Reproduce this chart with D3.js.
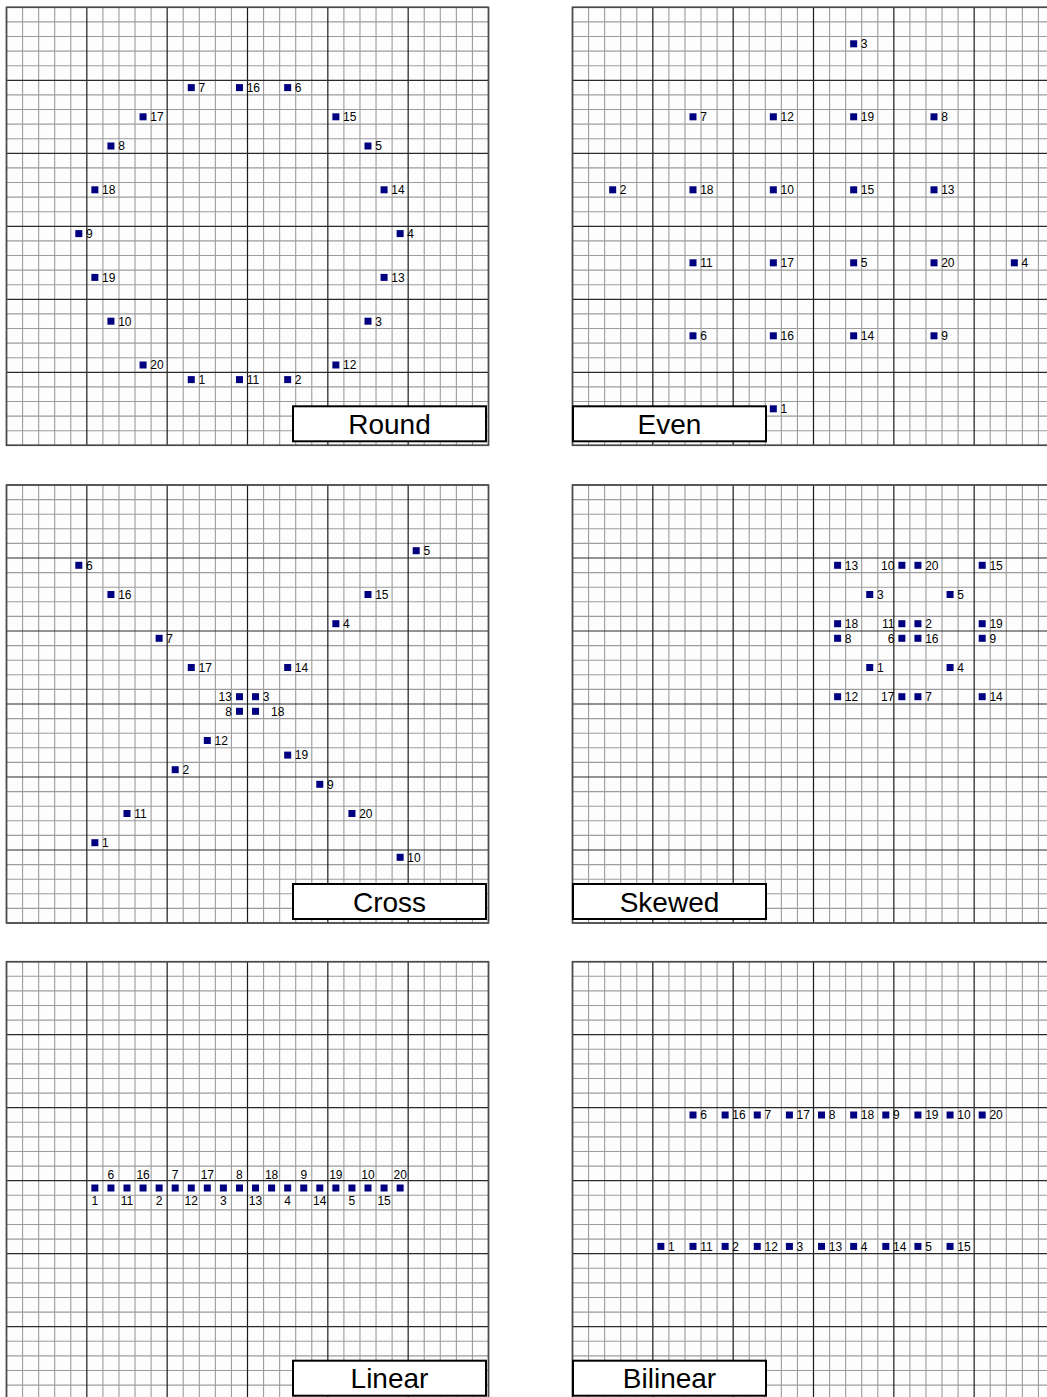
<!DOCTYPE html>
<html>
<head>
<meta charset="utf-8">
<script src="https://cdn.jsdelivr.net/npm/d3@7"></script>
<style>
  html, body { margin: 0; padding: 0; background: #fff; }
  svg { display: block; }
  text { font-family: "Liberation Sans", Arial, sans-serif; }
</style>
</head>
<body>
<svg id="chart" width="1047" height="1397"></svg>
<script>
// Point numbers 1..20; every coordinate array below is ordered by point number.
const pointIds = [1, 2, 3, 4, 5, 6, 7, 8, 9, 10, 11, 12, 13, 14, 15, 16, 17, 18, 19, 20];

// Grid units (0..30 on each axis, y counted upward).
const roundX = [11.5, 17.5, 22.5, 24.5, 22.5, 17.5, 11.5, 6.5, 4.5, 6.5, 14.5, 20.5, 23.5, 23.5, 20.5, 14.5, 8.5, 5.5, 5.5, 8.5];
const roundY = [4.5, 4.5, 8.5, 14.5, 20.5, 24.5, 24.5, 20.5, 14.5, 8.5, 4.5, 5.5, 11.5, 17.5, 22.5, 24.5, 22.5, 17.5, 11.5, 5.5];

const evenX = [12.5, 2.5, 17.5, 27.5, 17.5, 7.5, 7.5, 22.5, 22.5, 12.5, 7.5, 12.5, 22.5, 17.5, 17.5, 12.5, 12.5, 7.5, 17.5, 22.5];
const evenY = [2.5, 17.5, 27.5, 12.5, 12.5, 7.5, 22.5, 22.5, 7.5, 17.5, 12.5, 22.5, 17.5, 7.5, 17.5, 7.5, 12.5, 17.5, 22.5, 12.5];

const crossX = [5.5, 10.5, 15.5, 20.5, 25.5, 4.5, 9.5, 14.5, 19.5, 24.5, 7.5, 12.5, 14.5, 17.5, 22.5, 6.5, 11.5, 15.5, 17.5, 21.5];
const crossY = [5.5, 10.5, 15.5, 20.5, 25.5, 24.5, 19.5, 14.5, 9.5, 4.5, 7.5, 12.5, 15.5, 17.5, 22.5, 22.5, 17.5, 14.5, 11.5, 7.5];

const skewedX = [18.5, 21.5, 18.5, 23.5, 23.5, 20.5, 21.5, 16.5, 25.5, 20.5, 20.5, 16.5, 16.5, 25.5, 25.5, 21.5, 20.5, 16.5, 25.5, 21.5];
const skewedY = [17.5, 20.5, 22.5, 17.5, 22.5, 19.5, 15.5, 19.5, 19.5, 24.5, 20.5, 15.5, 24.5, 15.5, 24.5, 19.5, 15.5, 20.5, 20.5, 24.5];

const linearX = [5.5, 9.5, 13.5, 17.5, 21.5, 6.5, 10.5, 14.5, 18.5, 22.5, 7.5, 11.5, 15.5, 19.5, 23.5, 8.5, 12.5, 16.5, 20.5, 24.5];
const linearY = [14.5, 14.5, 14.5, 14.5, 14.5, 14.5, 14.5, 14.5, 14.5, 14.5, 14.5, 14.5, 14.5, 14.5, 14.5, 14.5, 14.5, 14.5, 14.5, 14.5];

const bilinearX = [5.5, 9.5, 13.5, 17.5, 21.5, 7.5, 11.5, 15.5, 19.5, 23.5, 7.5, 11.5, 15.5, 19.5, 23.5, 9.5, 13.5, 17.5, 21.5, 25.5];
const bilinearY = [10.5, 10.5, 10.5, 10.5, 10.5, 19.5, 19.5, 19.5, 19.5, 19.5, 10.5, 10.5, 10.5, 10.5, 10.5, 19.5, 19.5, 19.5, 19.5, 19.5];

const panelTitles = ["Round", "Even", "Cross", "Skewed", "Linear", "Bilinear"];
const gridTicks = [0, 1, 2, 3, 4, 5, 6, 7, 8, 9, 10, 11, 12, 13, 14, 15, 16, 17, 18, 19, 20, 21, 22, 23, 24, 25, 26, 27, 28, 29, 30];

// Where a point label goes when it would otherwise collide ("right" by default).
const labelSides = {
  Cross:  { 13: "left", 8: "left", 18: "wide" },
  Skewed: { 10: "left", 11: "left", 6: "left", 17: "left" },
  Linear: { 1: "below", 2: "below", 3: "below", 4: "below", 5: "below",
            11: "below", 12: "below", 13: "below", 14: "below", 15: "below",
            6: "above", 7: "above", 8: "above", 9: "above", 10: "above",
            16: "above", 17: "above", 18: "above", 19: "above", 20: "above" }
};

const panelData = [
  { title: panelTitles[0], xs: roundX,    ys: roundY },
  { title: panelTitles[1], xs: evenX,     ys: evenY },
  { title: panelTitles[2], xs: crossX,    ys: crossY },
  { title: panelTitles[3], xs: skewedX,   ys: skewedY },
  { title: panelTitles[4], xs: linearX,   ys: linearY },
  { title: panelTitles[5], xs: bilinearX, ys: bilinearY }
];

// Layout
const colLeft = [6.5, 572.5];
const rowTop = [7.3, 485, 961.7];
const panelW = 482, panelH = 438;
const markerSize = 7;
const boxW = 193, boxH = 35;

const svg = d3.select("#chart");

panelData.forEach((p, i) => {
  const left = colLeft[i % 2];
  const top = rowTop[Math.floor(i / 2)];

  const x = d3.scaleLinear().domain([0, 30]).range([left, left + panelW]);
  const y = d3.scaleLinear().domain([0, 30]).range([top + panelH, top]);

  const g = svg.append("g").attr("class", "panel");

  g.append("rect")
    .attr("x", left).attr("y", top)
    .attr("width", panelW).attr("height", panelH)
    .attr("fill", "#fdfdfd");

  const minor = gridTicks.filter(t => t % 5 !== 0);
  const major = gridTicks.filter(t => t % 5 === 0);

  // minor grid
  g.append("g").selectAll("line.vx").data(minor).join("line")
    .attr("x1", d => x(d)).attr("x2", d => x(d))
    .attr("y1", y(0)).attr("y2", y(30))
    .attr("stroke", "#9c9c9c").attr("stroke-width", 1.1);
  g.append("g").selectAll("line.hy").data(minor).join("line")
    .attr("x1", x(0)).attr("x2", x(30))
    .attr("y1", d => y(d)).attr("y2", d => y(d))
    .attr("stroke", "#9c9c9c").attr("stroke-width", 1.1);

  // major grid
  g.append("g").selectAll("line").data(major).join("line")
    .attr("x1", d => x(d)).attr("x2", d => x(d))
    .attr("y1", y(0)).attr("y2", y(30))
    .attr("stroke", "#1a1a1a").attr("stroke-width", 1.2);
  g.append("g").selectAll("line").data(major).join("line")
    .attr("x1", x(0)).attr("x2", x(30))
    .attr("y1", d => y(d)).attr("y2", d => y(d))
    .attr("stroke", "#2a2a2a").attr("stroke-width", 1.2);

  // outer frame
  g.append("rect")
    .attr("x", left).attr("y", top)
    .attr("width", panelW).attr("height", panelH)
    .attr("fill", "none").attr("stroke", "#4a4a4a").attr("stroke-width", 1.6);

  const pts = pointIds.map((id, k) => ({ id, x: p.xs[k], y: p.ys[k] }));
  const sides = labelSides[p.title] || {};

  // markers
  g.append("g").selectAll("rect").data(pts).join("rect")
    .attr("x", d => x(d.x) - markerSize / 2)
    .attr("y", d => y(d.y) - markerSize / 2)
    .attr("width", markerSize).attr("height", markerSize)
    .attr("fill", "#000080");

  // point labels
  g.append("g").selectAll("text").data(pts).join("text")
    .attr("font-size", 12)
    .attr("fill", "#000")
    .each(function (d) {
      const side = sides[d.id] || "right";
      const cx = x(d.x), cy = y(d.y);
      const t = d3.select(this).text(d.id);
      if (side === "right") {
        t.attr("x", cx + 7.2).attr("y", cy + 4.3).attr("text-anchor", "start");
      } else if (side === "wide") {
        t.attr("x", cx + 15.5).attr("y", cy + 4.3).attr("text-anchor", "start");
      } else if (side === "left") {
        t.attr("x", cx - 7.5).attr("y", cy + 4.3).attr("text-anchor", "end");
      } else if (side === "above") {
        t.attr("x", cx).attr("y", cy - 9.5).attr("text-anchor", "middle");
      } else {
        t.attr("x", cx).attr("y", cy + 16.5).attr("text-anchor", "middle");
      }
    });

  // title box
  const boxX = (i % 2 === 0) ? left + panelW - boxW - 2.5 : left + 0.5;
  const boxY = top + panelH - boxH - 4;
  g.append("rect")
    .attr("x", boxX).attr("y", boxY)
    .attr("width", boxW).attr("height", boxH)
    .attr("fill", "#fff").attr("stroke", "#000").attr("stroke-width", 2);
  g.append("text")
    .attr("x", boxX + boxW / 2).attr("y", boxY + boxH / 2 + 10)
    .attr("text-anchor", "middle")
    .attr("font-size", 28)
    .attr("fill", "#000")
    .text(p.title);
});
</script>
</body>
</html>
